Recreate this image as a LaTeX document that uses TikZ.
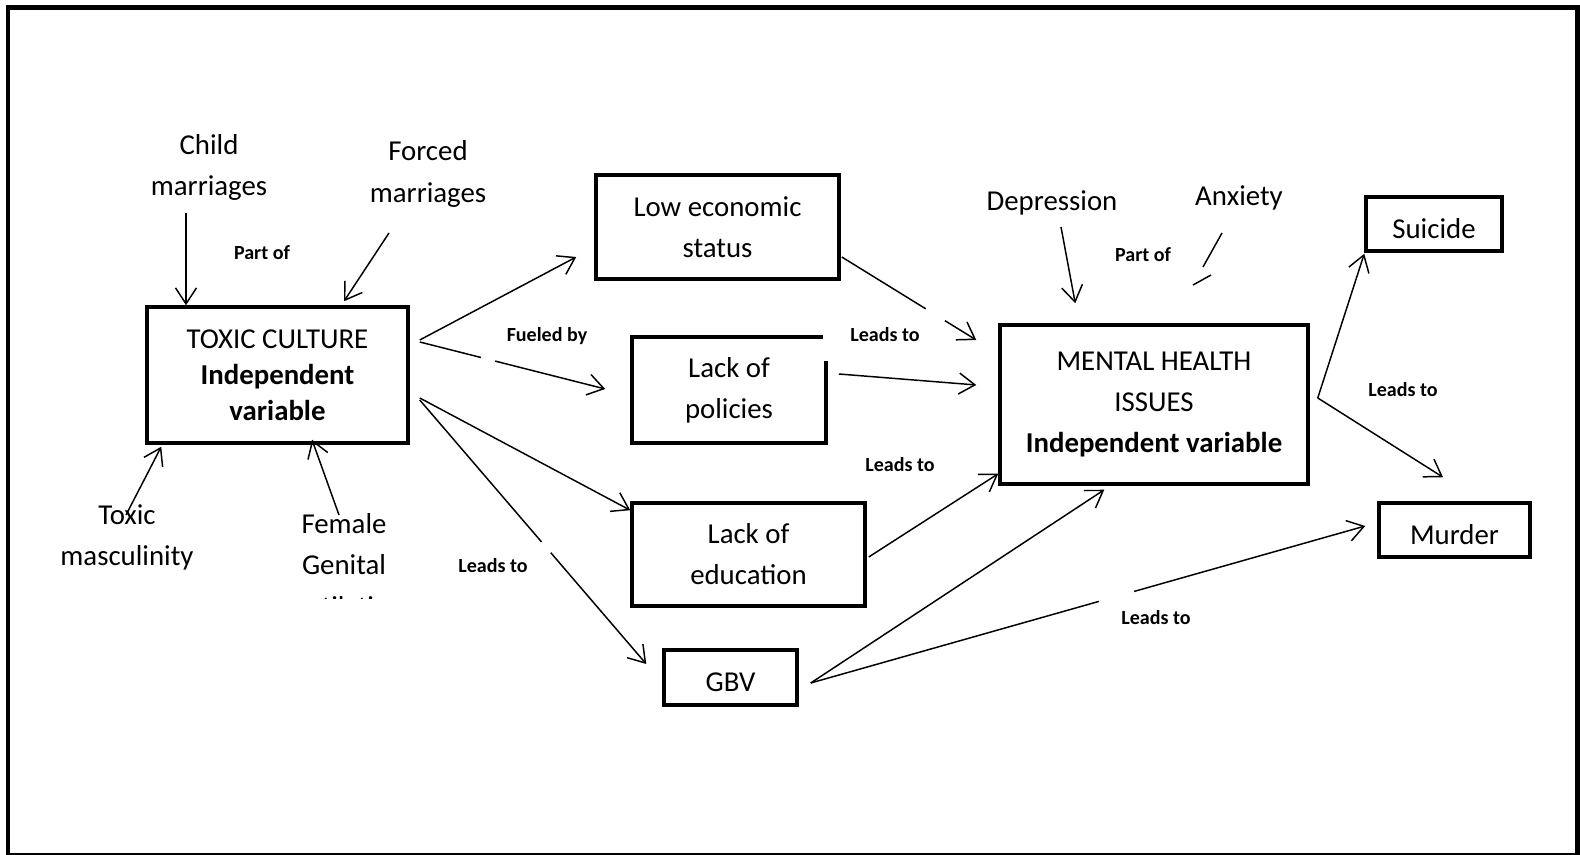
\documentclass[tikz,border=0pt]{standalone}
\usepackage{fontspec}
\setmainfont{Carlito}
\usepackage{tikz}
\usetikzlibrary{
  positioning,
  calc,
  arrows.meta
}
\tikzstyle{box}=[draw, line width=1pt, align=center, inner sep=0pt, font=\fontsize{8.2}{11.7}\selectfont]
\tikzstyle{single}=[text height=8pt, text depth=0pt]
\tikzstyle{factor}=[align=center, inner sep=0pt, font=\fontsize{8.2}{11.7}\selectfont]
\tikzstyle{rel}=[inner sep=0pt, font=\bfseries\fontsize{5.7}{7}\selectfont]
\tikzstyle{conn}=[-{Straight Barb[length=1.6mm, width=2.1mm]}, line width=0.42pt]
\tikzstyle{gap}=[white, line width=1.3mm]

\begin{document}
\begin{tikzpicture}[x=0.1mm, y=-0.1mm]
    \def\W{1580};
    \def\H{855};
    \useasboundingbox (0,0) rectangle (\W,\H);

    % 外枠
    \draw[line width=1.42pt] (8,7.5) rectangle (1577,856);

    % 変数の箱
    \node[box, minimum width=26.1mm, minimum height=13.6mm, font=\fontsize{8.2}{10.3}\selectfont] (toxic) at (277.5,375) {TOXIC CULTURE\\\textbf{Independent}\\\textbf{variable}};
    \node[box, minimum width=24.3mm, minimum height=10.4mm] (lowecon) at (717.5,227) {Low economic\\status};
    \node[box, minimum width=19.4mm, minimum height=10.6mm] (policies) at (729,390) {Lack of\\policies};
    \node[box, minimum width=23.3mm, minimum height=10.3mm] (education) at (748.5,554.5) {Lack of\\education};
    \node[box, single, minimum width=13.3mm, minimum height=5.5mm] (gbv) at (730.5,677.5) {GBV};
    \node[box, minimum width=30.8mm, minimum height=15.9mm] (mental) at (1154,404.5) {MENTAL HEALTH\\ISSUES\\\textbf{Independent variable}};
    \node[box, single, minimum width=13.6mm, minimum height=5.4mm] (suicide) at (1434,224) {Suicide};
    \node[box, single, minimum width=15.1mm, minimum height=5.4mm] (murder) at (1454.5,530) {Murder};

    % 欠けた角
    \fill[white] (823,332) rectangle (831,361);

    % 要因
    \node[factor] (child) at (209,167.5) {Child\\marriages};
    \node[factor] (forced) at (428,174) {Forced\\marriages};
    \node[factor] (masc) at (127,537) {Toxic\\masculinity};
    \begin{scope}
      \clip (0,0) rectangle (\W,599);
      \node[factor] (fgm) at (344,565) {Female\\Genital\\mutilation};
    \end{scope}
    \node[factor] (depression) at (1052,203) {Depression};
    \node[factor] (anxiety) at (1239,198) {Anxiety};

    % 関係のラベル
    \node[rel] (partofA) at (262,253) {Part of};
    \node[rel] (fueled) at (547,336) {Fueled by};
    \node[rel] (leadsA) at (885,335) {Leads to};
    \node[rel] (leadsB) at (900,465) {Leads to};
    \node[rel] (leadsC) at (493,566) {Leads to};
    \node[rel] (leadsD) at (1156,618) {Leads to};
    \node[rel] (partofB) at (1143,255) {Part of};
    \node[rel] (leadsE) at (1403,390) {Leads to};

    % 要因から中心へ
    \draw[conn] ([shift={(-23,45.5)}]child.center) -- ([shift={(-91.5,0)}]toxic.north);
    \draw[conn] ([shift={(-39,59)}]forced.center) -- ([shift={(66.5,-4)}]toxic.north);
    \draw[conn] ([shift={(-1,-22)}]masc.center) -- ([shift={(16,2)}]toxic.south west);
    \draw[conn] ([shift={(-5,-50)}]fgm.center) -- ([shift={(34.5,-5)}]toxic.south);
    \draw[conn] ([shift={(9,24)}]depression.center) -- ([shift={(77,-20)}]mental.north west);
    \draw[line width=0.42pt] ([shift={(-17,35)}]anxiety.center) -- ([shift={(-36,69)}]anxiety.center);
    \draw[line width=0.42pt, dash pattern=on 2.4mm off 3.8mm] ([shift={(-28,77)}]anxiety.center) -- ([shift={(-46,87)}]anxiety.center);

    % 文化から
    \draw[conn] ([shift={(10,-35)}]toxic.east) -- ([shift={(-18,30)}]lowecon.west);
    \draw[conn] ([shift={(10,-33)}]toxic.east) -- ([shift={(-25,-1)}]policies.west);
    \draw[conn] ([shift={(10,23)}]toxic.east) -- ([shift={(0,9)}]education.north west);
    \draw[conn] ([shift={(10,25)}]toxic.east) -- ([shift={(-16,-13.5)}]gbv.west);

    % 精神衛生へ
    \draw[conn] ([shift={(1,30)}]lowecon.east) -- ([shift={(-22,-64.5)}]mental.west);
    \draw[conn] ([shift={(11,-16)}]policies.east) -- ([shift={(-22,-19.5)}]mental.west);
    \draw[conn] ([shift={(2,2.5)}]education.east) -- ([shift={(0,-12)}]mental.south west);
    \draw[conn] ([shift={(12,5.5)}]gbv.east) -- ([shift={(106,4)}]mental.south west);
    \draw[conn] ([shift={(12,5.5)}]gbv.east) -- ([shift={(-12,-4)}]murder.west);

    % 結果
    \draw[conn] ([shift={(8,-6.5)}]mental.east) -- ([shift={(0,1)}]suicide.south west);
    \draw[conn] ([shift={(8,-6.5)}]mental.east) -- ([shift={(-11.5,-24)}]murder.north);

    % 線の切れ目
    \draw[gap] (481,357.6) -- (495,361.1);
    \draw[gap] (926,308.7) -- (945,320.1);
    \draw[gap] (543,541) -- (552,551.5);
    \draw[gap] (1099,601.4) -- (1134,591.6);
\end{tikzpicture}
\end{document}
